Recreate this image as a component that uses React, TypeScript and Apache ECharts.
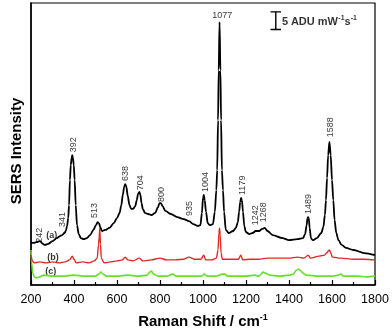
import React, { useEffect, useRef } from 'react';
import * as echarts from 'echarts';

// Raman shift (cm-1) vs SERS intensity (ADU mW-1 s-1, arbitrary offset)
const spectrumA: [number, number][] = [
  [200, 12.4], [212, 12.4], [225, 12.6], [242, 12.9], [255, 12.1], [265, 11.8], [280, 12.1], [300, 12.9],
  [320, 13.8], [335, 14.4], [345, 14.7], [355, 15.3], [362, 15.9], [368, 17.4], [373, 19.7], [377, 23.5],
  [381, 30.9], [385, 35.3], [389, 37.4], [392, 38.2], [395, 37.4], [399, 35.3], [403, 30.9], [408, 23.5],
  [414, 17.6], [422, 15.0], [432, 13.8], [445, 13.5], [460, 13.8], [475, 14.7], [490, 16.2], [502, 17.6],
  [510, 18.5], [516, 18.2], [522, 17.1], [530, 15.9], [545, 16.2], [565, 16.8], [585, 18.2], [600, 19.7],
  [612, 21.2], [620, 23.5], [627, 26.5], [633, 28.8], [638, 29.7], [643, 29.1], [650, 26.2], [658, 23.5],
  [666, 22.4], [675, 22.4], [685, 23.2], [692, 25.0], [698, 26.8], [704, 27.4], [709, 26.5], [714, 24.1],
  [720, 22.4], [730, 21.2], [745, 20.9], [760, 20.6], [778, 21.2], [790, 22.9], [798, 24.1], [804, 24.1],
  [812, 23.2], [825, 21.8], [850, 20.9], [880, 20.0], [910, 19.4], [935, 18.8], [955, 17.9], [975, 17.4],
  [988, 17.6], [995, 21.2], [1000, 25.6], [1004, 26.5], [1008, 25.0], [1014, 21.5], [1022, 18.2], [1032, 17.6],
  [1046, 17.9], [1055, 21.5], [1062, 27.9], [1066, 33.8], [1070, 48.5], [1073, 63.2], [1077, 77.4], [1081, 63.2],
  [1084, 48.5], [1088, 33.8], [1093, 27.9], [1098, 21.5], [1106, 16.2], [1120, 15.3], [1140, 15.9], [1153, 16.8],
  [1162, 18.5], [1168, 21.5], [1173, 24.4], [1177, 25.6], [1181, 25.0], [1186, 21.5], [1192, 17.4], [1199, 15.6],
  [1215, 15.0], [1231, 15.3], [1245, 15.9], [1254, 15.9], [1262, 15.9], [1275, 16.5], [1287, 16.8], [1300, 15.9],
  [1324, 14.7], [1370, 13.8], [1400, 13.2], [1440, 13.5], [1465, 13.8], [1475, 15.0], [1482, 17.6], [1486, 19.7],
  [1489, 20.0], [1492, 19.7], [1496, 16.8], [1502, 13.8], [1510, 13.2], [1530, 13.8], [1550, 15.3], [1560, 17.1],
  [1567, 20.6], [1572, 25.0], [1577, 31.5], [1582, 38.2], [1588, 42.1], [1594, 38.2], [1600, 30.9], [1606, 25.0],
  [1612, 19.1], [1620, 15.3], [1630, 13.2], [1645, 11.8], [1665, 10.9], [1700, 10.3], [1750, 9.4], [1800, 8.8],
];

const spectrumB: [number, number][] = [
  [200, 8.8], [206, 7.1], [215, 6.5], [240, 6.8], [270, 6.5], [300, 6.8], [330, 6.5], [360, 6.8],
  [380, 7.4], [392, 8.5], [400, 7.6], [410, 6.5], [440, 6.8], [470, 6.5], [495, 7.1], [508, 7.9],
  [514, 11.8], [517, 14.0], [520, 16.8], [523, 12.0], [527, 7.9], [540, 6.5], [570, 6.8], [600, 7.1],
  [625, 7.4], [638, 8.2], [650, 7.4], [675, 7.1], [704, 7.9], [720, 7.1], [760, 7.4], [800, 7.9],
  [830, 7.4], [870, 7.4], [910, 7.6], [935, 8.2], [960, 7.6], [990, 7.6], [1004, 8.8], [1012, 7.4],
  [1040, 7.4], [1062, 7.9], [1070, 10.3], [1074, 15.3], [1077, 16.8], [1080, 14.7], [1084, 9.4], [1090, 7.6],
  [1130, 7.6], [1165, 7.6], [1176, 8.8], [1185, 7.4], [1220, 7.6], [1260, 7.6], [1300, 7.9], [1350, 7.9],
  [1400, 7.9], [1440, 8.2], [1470, 7.9], [1489, 8.8], [1500, 7.9], [1540, 8.5], [1565, 8.8], [1575, 9.4],
  [1583, 10.0], [1588, 10.3], [1594, 9.4], [1602, 8.2], [1640, 7.9], [1700, 7.6], [1750, 7.6], [1800, 7.4],
];

const spectrumC: [number, number][] = [
  [200, 10.3], [203, 6.5], [208, 3.5], [215, 2.4], [225, 2.1], [240, 2.4], [260, 2.9], [300, 2.6],
  [350, 2.6], [400, 2.9], [450, 2.6], [500, 2.6], [515, 3.2], [525, 3.8], [535, 3.2], [550, 2.6],
  [600, 2.6], [650, 2.9], [700, 2.6], [740, 2.9], [752, 3.8], [760, 4.1], [770, 3.2], [790, 2.6],
  [830, 2.6], [860, 3.2], [875, 2.6], [950, 2.6], [995, 2.6], [1005, 3.2], [1020, 2.6], [1060, 2.6],
  [1090, 3.2], [1100, 3.2], [1115, 2.6], [1160, 2.6], [1200, 2.6], [1240, 2.9], [1260, 2.6], [1280, 3.8],
  [1290, 3.5], [1310, 2.9], [1360, 2.6], [1400, 2.9], [1420, 3.2], [1435, 4.4], [1445, 4.7], [1455, 4.1],
  [1465, 3.5], [1480, 2.9], [1540, 2.6], [1600, 2.6], [1630, 2.9], [1640, 3.2], [1655, 2.6], [1720, 2.6],
  [1760, 2.4], [1800, 2.6],
];

// peak annotations: text, x (cm-1), y of label foot
const peakNames = ['242', '341', '392', '513', '638', '704', '800', '935', '1004', '1179', '1242', '1268', '1489', '1588'];
const peakX = [237, 343, 394, 491, 639, 706, 806, 935, 1007, 1183, 1240, 1280, 1488, 1592];
const peakY = [12.4, 17.1, 39.1, 19.7, 30.6, 27.9, 24.4, 20.3, 27.4, 26.5, 17.6, 18.5, 20.9, 43.5];
const topPeakName = '1077';
const topPeakPos: [number, number] = [1090, 79.4];

const curveNames = ['(a)', '(b)', '(c)'];
const curveLabelX = [297, 302, 292];
const curveLabelY = [14.7, 8.2, 4.1];

const xTickMin = 200;
const xTickMax = 1800;
const xTickStep = 200;

// 5 ADU scale bar
const scaleBarX = [1314, 1363, 1338.5, 1338.5, 1314, 1363];
const scaleBarY = [80.4, 80.4, 80.4, 75.2, 75.2, 75.2];
const scaleText: [number, number] = [1368, 77.8];

const FONT = '"Liberation Sans", Arial, Helvetica, sans-serif';

export default function App() {
  const ref = useRef<HTMLDivElement>(null);
  useEffect(() => {
    if (!ref.current) return;
    const chart = echarts.init(ref.current, undefined, { renderer: 'svg' });
    const option: any = {
      animation: false,
      grid: {
        left: 29, right: 17, top: 3, bottom: 48,
        show: true, borderColor: '#000', borderWidth: 1.2, backgroundColor: 'transparent',
      },
      xAxis: {
        type: 'value', min: xTickMin, max: xTickMax, interval: xTickStep,
        name: '{n|Raman Shift / cm}{s|-1}', nameLocation: 'middle', nameGap: 27,
        nameTextStyle: {
          rich: {
            n: { fontFamily: FONT, fontWeight: 'bold', fontSize: 15, color: '#000', lineHeight: 17 },
            s: { fontFamily: FONT, fontWeight: 'bold', fontSize: 9, color: '#000', verticalAlign: 'top', lineHeight: 9 },
          },
        },
        axisLine: { show: true, onZero: false, lineStyle: { color: '#000', width: 1.5 } },
        axisTick: { show: true, inside: true, length: 5, lineStyle: { color: '#000', width: 1.2 } },
        minorTick: { show: true, splitNumber: 2, length: 3, lineStyle: { color: '#000', width: 1.2 } },
        axisLabel: { color: '#000', fontSize: 12.5, fontFamily: FONT, margin: 7, formatter: (v: number) => String(v) },
        splitLine: { show: false },
      },
      yAxis: {
        type: 'value', min: 0, max: 83,
        name: 'SERS Intensity', nameLocation: 'middle', nameGap: 8, nameRotate: 90,
        nameTextStyle: { fontFamily: FONT, fontWeight: 'bold', fontSize: 15, color: '#000', padding: [0, 14, 0, 0] },
        axisLine: { show: true, onZero: false, lineStyle: { color: '#000', width: 1.5 } },
        axisTick: { show: false },
        axisLabel: { show: false },
        splitLine: { show: false },
      },
      series: [
        {
          type: 'line', data: spectrumC, showSymbol: false, smooth: 0.3, smoothMonotone: 'x',
          lineStyle: { color: '#66e02a', width: 1.6 }, silent: true,
        },
        {
          type: 'line', data: spectrumB, showSymbol: false, smooth: 0.3, smoothMonotone: 'x',
          lineStyle: { color: '#dd2a25', width: 1.4 }, silent: true,
        },
        {
          type: 'line', data: spectrumA, showSymbol: false, smooth: 0.3, smoothMonotone: 'x',
          lineStyle: { color: '#000', width: 1.8 }, silent: true,
        },
        {
          type: 'scatter', symbolSize: 0, silent: true,
          data: [
            ...peakNames.map((n, i) => ({ name: n, value: [peakX[i], peakY[i]] })),
            { name: topPeakName, value: topPeakPos, label: { rotate: 0, align: 'center', verticalAlign: 'middle' } },
          ],
          label: {
            show: true, formatter: '{b}', position: [0, 0], rotate: 90, align: 'left', verticalAlign: 'middle',
            fontFamily: FONT, fontSize: 9, color: '#000',
          },
        },
        {
          type: 'scatter', symbolSize: 0, silent: true,
          data: curveNames.map((n, i) => ({ name: n, value: [curveLabelX[i], curveLabelY[i]] })),
          label: {
            show: true, formatter: '{b}', position: [0, 0], align: 'center', verticalAlign: 'middle',
            fontFamily: FONT, fontWeight: 'bold', fontSize: 9, color: '#000',
          },
        },
        {
          type: 'line', showSymbol: false, silent: true,
          data: scaleBarX.map((x, i) => [x, scaleBarY[i]]),
          lineStyle: { color: '#000', width: 1.4 },
        },
        {
          type: 'scatter', symbolSize: 0, silent: true,
          data: [{ name: 'scale', value: scaleText }],
          label: {
            show: true, position: [0, 0], align: 'left', verticalAlign: 'middle',
            formatter: '{b|5 ADU mW}{s|-1}{b|s}{s|-1}',
            rich: {
              b: { fontFamily: FONT, fontWeight: 'bold', fontSize: 11, color: '#000', lineHeight: 14 },
              s: { fontFamily: FONT, fontWeight: 'bold', fontSize: 7, color: '#000', verticalAlign: 'top', lineHeight: 7 },
            },
          },
        },
      ],
    };
    chart.setOption(option);
    return () => chart.dispose();
  }, []);
  return <div ref={ref} style={{ position: 'fixed', left: 0, top: 0, width: 392, height: 333 }} />;
}
